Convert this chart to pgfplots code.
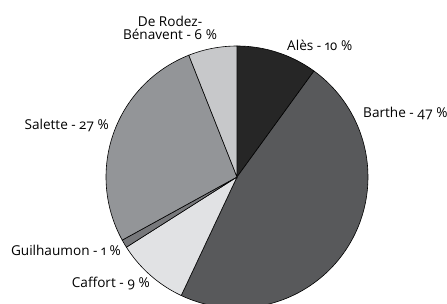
\documentclass[border=0pt]{standalone}
\usepackage{pgfplots}
\pgfplotsset{compat=1.18}
\usepackage{fontspec}
\setmainfont[Numbers=OldStyle]{Open Sans}
\definecolor{cales}{HTML}{262626}
\definecolor{cbarthe}{HTML}{58595B}
\definecolor{ccaffort}{HTML}{E1E2E4}
\definecolor{cguil}{HTML}{77787B}
\definecolor{csalette}{HTML}{939598}
\definecolor{crodez}{HTML}{C7C8CA}
\begin{document}
\begin{tikzpicture}
\clip (-237pt,-126pt) rectangle (210pt,177pt);
\begin{axis}[x=131pt,y=131pt,hide axis,anchor=origin,at={(0,0)},
  xmin=-1.1,xmax=1.1,ymin=-1.1,ymax=1.1,clip=false]
% slices: domain = cumulative percentages
\addplot[fill=cales,draw=black,line width=0.6pt,domain=0:10,samples=30] ({cos(90-3.6*x)},{sin(90-3.6*x)}) -- (axis cs:0,0) -- cycle;
\addplot[fill=cbarthe,draw=black,line width=0.6pt,domain=10:57,samples=90] ({cos(90-3.6*x)},{sin(90-3.6*x)}) -- (axis cs:0,0) -- cycle;
\addplot[fill=ccaffort,draw=black,line width=0.6pt,domain=57:66,samples=30] ({cos(90-3.6*x)},{sin(90-3.6*x)}) -- (axis cs:0,0) -- cycle;
\addplot[fill=cguil,draw=black,line width=0.6pt,domain=66:67,samples=5] ({cos(90-3.6*x)},{sin(90-3.6*x)}) -- (axis cs:0,0) -- cycle;
\addplot[fill=csalette,draw=black,line width=0.6pt,domain=67:94,samples=60] ({cos(90-3.6*x)},{sin(90-3.6*x)}) -- (axis cs:0,0) -- cycle;
\addplot[fill=crodez,draw=black,line width=0.6pt,domain=94:100,samples=20] ({cos(90-3.6*x)},{sin(90-3.6*x)}) -- (axis cs:0,0) -- cycle;
\end{axis}
\begin{scope}[every node/.style={font=\fontsize{13.6}{13}\selectfont,inner sep=0pt}]
\node[align=center,anchor=center] at (-67pt,149.5pt) {De Rodez-\\Bénavent - 6 \%};
\node[anchor=west] at (50pt,132pt) {Alès - 10 \%};
\node[anchor=west] at (126pt,64pt) {Barthe - 47 \%};
\node[anchor=east] at (-128pt,52pt) {Salette - 27 \%};
\node[anchor=east] at (-116pt,-73pt) {Guilhaumon - 1 \%};
\node[anchor=east] at (-87pt,-106pt) {Caffort - 9 \%};
\end{scope}
\end{tikzpicture}
\end{document}
